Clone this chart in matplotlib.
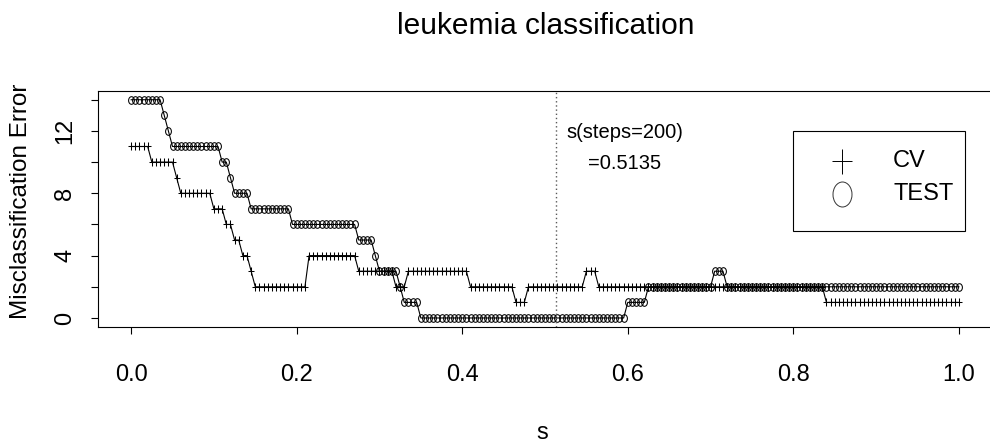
import numpy as np
import matplotlib
matplotlib.use('Agg')
import matplotlib.pyplot as plt
from matplotlib.path import Path
from matplotlib.patches import Rectangle

plt.rcParams['font.family'] = ['Liberation Sans', 'DejaVu Sans']

# s grid: steps=200 -> s = 0, 0.005, ..., 1
n_steps = 200
s_opt = 0.5135

# step levels (value, number of consecutive s points)
cv_levels = [11, 10, 9, 8, 7, 6, 5, 4, 3, 2, 4, 3, 2, 3, 2, 1, 2, 3, 2, 1]
cv_counts = [5, 6, 1, 8, 3, 2, 2, 2, 1, 13, 12, 9, 3, 15, 11, 3, 14, 3, 55, 33]
test_levels = [14, 13, 12, 11, 10, 9, 8, 7, 6, 5, 4, 3, 2, 1, 0, 1, 2, 3, 2]
test_counts = [8, 1, 1, 12, 2, 1, 4, 10, 16, 4, 1, 5, 1, 4, 50, 5, 16, 3, 57]

s = np.arange(n_steps + 1) / n_steps
cv = np.repeat(cv_levels, cv_counts)
test = np.repeat(test_levels, test_counts)

# slightly tall markers, like the R device output
plus_mk = Path([(-0.39, 0), (0.39, 0), (0, -0.5), (0, 0.5)],
               [Path.MOVETO, Path.LINETO, Path.MOVETO, Path.LINETO])
circ = Path.unit_circle()
circ_mk = Path(circ.vertices * [0.38, 0.5], circ.codes)

fig = plt.figure(figsize=(9.9, 4.44), dpi=100)
ax = fig.add_axes([98 / 990, 1 - 326.7 / 444, 894 / 990, (326.7 - 91) / 444])

ax.plot(s, cv, color='black', lw=0.8, marker=plus_mk, ms=5.5, mew=0.75)
ax.plot(s, test, color='black', lw=0.8, marker=circ_mk, ms=5.5, mew=0.75,
        mfc='none')
ax.axvline(s_opt, color='0.35', lw=1, ls=(0, (1, 2)))
ax.text(s_opt + 0.0825, 10.9, 's(steps=200)\n=0.5135', ha='center', va='center',
        fontsize=14.5, linespacing=1.75)

ax.set_xlim(-0.04, 1.04)
ax.set_ylim(-0.56, 14.56)
ax.set_xticks([0, 0.2, 0.4, 0.6, 0.8, 1.0])
ax.set_xticklabels(['0.0', '0.2', '0.4', '0.6', '0.8', '1.0'])
ax.set_yticks(range(0, 15, 2))
ax.set_yticklabels(['0', '', '4', '', '8', '', '12', ''], rotation=90, va='center')
ax.tick_params(axis='x', length=5, width=0.8, pad=22, labelsize=17)
ax.tick_params(axis='y', length=5, width=0.8, pad=10.5, labelsize=17)
for sp in ax.spines.values():
    sp.set_linewidth(0.8)

fig.text(546 / 990, 1 - 34 / 444, 'leukemia classification', ha='center',
         va='baseline', fontsize=21.5)
fig.text(542 / 990, 1 - 439 / 444, 's', ha='center', va='baseline', fontsize=17)
fig.text(21 / 990, 1 - 201.7 / 444, 'Misclassification Error', rotation=90,
         ha='center', va='center', fontsize=17.5)

# legend box drawn by hand (R style)
W, H = 990, 444
fig.patches.append(Rectangle((793 / W, 1 - 230.7 / H), 172 / W, 100 / H,
                             transform=fig.transFigure, fill=False,
                             edgecolor='black', lw=0.8))
fig.add_artist(plt.Line2D([842 / W], [1 - 161 / H], transform=fig.transFigure,
                          ls='none', marker=plus_mk, ms=18, mew=0.7, color='black'))
fig.add_artist(plt.Line2D([842 / W], [1 - 194.3 / H], transform=fig.transFigure,
                          ls='none', marker=circ_mk, ms=18, mew=0.7, color='0.2',
                          mfc='none'))
fig.text(893 / W, 1 - 161 / H, 'CV', ha='left', va='center', fontsize=17)
fig.text(893 / W, 1 - 194.3 / H, 'TEST', ha='left', va='center', fontsize=17)

fig.savefig('out.png', dpi=100)
